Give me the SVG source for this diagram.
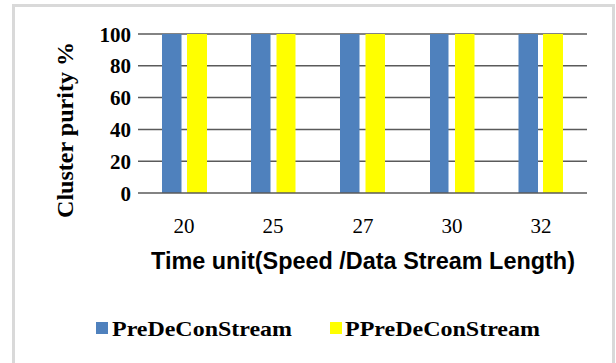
<svg xmlns="http://www.w3.org/2000/svg" width="616" height="363" viewBox="0 0 616 363">
<style>
.grid{stroke:#5a5a5a;stroke-width:1.5}
.b{fill:#4f81bd}
.y{fill:#ffff00}
.tick{font-family:"Liberation Serif",serif;font-weight:bold;font-size:21px;text-anchor:end;fill:#000}
.cat{font-family:"Liberation Serif",serif;font-size:21px;text-anchor:middle;fill:#000}
.xt{font-family:"Liberation Sans",sans-serif;font-weight:bold;font-size:23px;text-anchor:middle;fill:#000}
.yt{font-family:"Liberation Serif",serif;font-weight:bold;font-size:23px;text-anchor:middle;fill:#000}
.lg{font-family:"Liberation Serif",serif;font-weight:bold;font-size:22px;fill:#000}
</style>
<rect x="0" y="0" width="616" height="363" fill="#fff"/>
<rect x="13.5" y="5.5" width="600" height="370" fill="#fff" stroke="#d9d9d9" stroke-width="3"/>
<g id="grid">
<line class="grid" x1="138" y1="34" x2="587" y2="34"/>
<line class="grid" x1="138" y1="65.8" x2="587" y2="65.8"/>
<line class="grid" x1="138" y1="97.6" x2="587" y2="97.6"/>
<line class="grid" x1="138" y1="129.4" x2="587" y2="129.4"/>
<line class="grid" x1="138" y1="161.2" x2="587" y2="161.2"/>
</g>
<g id="bars">
<rect class="b" x="162" y="34" width="19.5" height="159"/>
<rect class="y" x="187" y="34" width="20" height="159"/>
<rect class="b" x="251" y="34" width="19.5" height="159"/>
<rect class="y" x="276.5" y="34" width="19" height="159"/>
<rect class="b" x="340" y="34" width="19.5" height="159"/>
<rect class="y" x="365.5" y="34" width="19.5" height="159"/>
<rect class="b" x="430" y="34" width="18.5" height="159"/>
<rect class="y" x="455" y="34" width="19.5" height="159"/>
<rect class="b" x="518.5" y="34" width="19.5" height="159"/>
<rect class="y" x="543" y="34" width="20" height="159"/>
</g>
<line class="grid" x1="138" y1="193" x2="587" y2="193"/>
<g id="yticks">
<text class="tick" x="131" y="41.5">100</text>
<text class="tick" x="131" y="73.3">80</text>
<text class="tick" x="131" y="105.1">60</text>
<text class="tick" x="131" y="136.9">40</text>
<text class="tick" x="131" y="168.7">20</text>
<text class="tick" x="131" y="200.5">0</text>
</g>
<g id="xticks">
<text class="cat" x="184" y="233">20</text>
<text class="cat" x="273" y="233">25</text>
<text class="cat" x="363" y="233">27</text>
<text class="cat" x="452" y="233">30</text>
<text class="cat" x="541" y="233">32</text>
</g>
<text class="xt" x="363" y="269" textLength="424" lengthAdjust="spacingAndGlyphs">Time unit(Speed /Data Stream Length)</text>
<text class="yt" transform="translate(73,130) rotate(-90)" textLength="176" lengthAdjust="spacingAndGlyphs">Cluster purity  %</text>
<g id="legend">
<rect class="b" x="96" y="322" width="12" height="12"/>
<text class="lg" x="112" y="336" textLength="180" lengthAdjust="spacingAndGlyphs">PreDeConStream</text>
<rect class="y" x="330" y="322" width="12" height="12"/>
<text class="lg" x="345" y="336" textLength="195" lengthAdjust="spacingAndGlyphs">PPreDeConStream</text>
</g>
</svg>
